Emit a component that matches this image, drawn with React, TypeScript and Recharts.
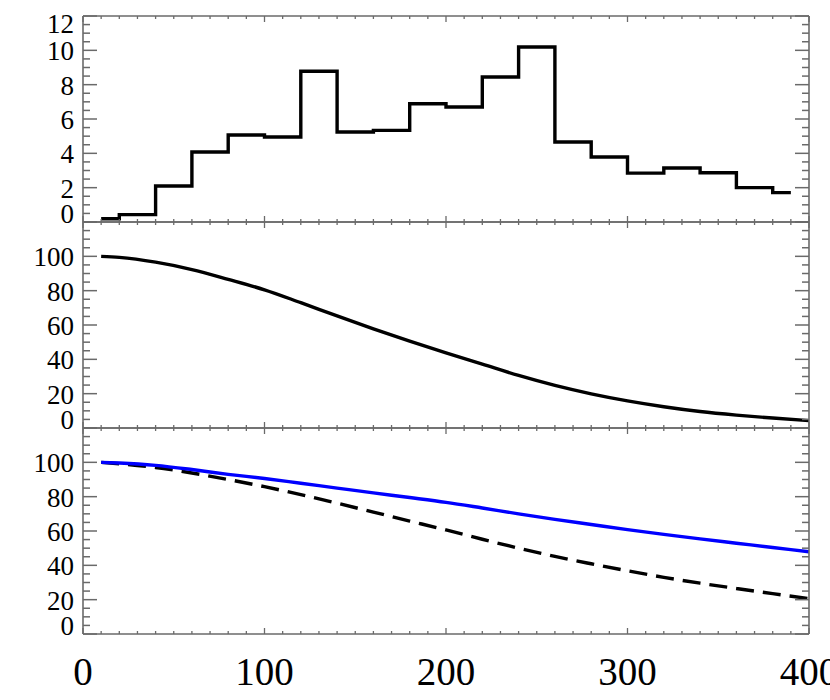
import React from "react";
import { LineChart, Line, XAxis, YAxis } from "recharts";

// ---- data ----
const histX = [10, 30, 50, 70, 90, 110, 130, 150, 170, 190, 210, 230, 250, 270, 290, 310, 330, 350, 370, 390];
const histY = [0.19, 0.43, 2.1, 4.08, 5.07, 4.95, 8.78, 5.24, 5.34, 6.89, 6.7, 8.45, 10.19, 4.66, 3.79, 2.85, 3.15, 2.87, 2.0, 1.71];

const curveX = [10, 20, 40, 60, 80, 100, 120, 140, 160, 180, 200, 220, 240, 260, 280, 300, 320, 340, 360, 380, 400];
const middleY = [100.0, 99.4, 96.6, 92.3, 86.6, 80.5, 73.0, 65.3, 57.8, 50.6, 43.8, 37.2, 30.6, 24.8, 19.9, 15.8, 12.4, 9.6, 7.5, 5.8, 4.3];
const blueY = [100.0, 99.6, 98.2, 95.8, 93.0, 90.6, 87.8, 85.0, 82.2, 79.5, 76.7, 73.4, 70.0, 66.8, 63.8, 60.8, 58.0, 55.4, 52.9, 50.4, 47.9];
const dashedY = [100.0, 99.2, 97.0, 93.8, 90.0, 85.8, 81.2, 76.2, 71.0, 65.8, 60.6, 55.2, 50.0, 45.2, 40.9, 36.8, 33.0, 29.6, 26.5, 23.5, 20.6];

const xMajor = [0, 100, 200, 300, 400];
const topMajor = [0, 2, 4, 6, 8, 10, 12];
const topLabels = [0, 2, 4, 6, 8, 10, 12];
const pctMajor = [0, 20, 40, 60, 80, 100, 120];
const pctLabels = [0, 20, 40, 60, 80, 100];

const histData = histX.map((x, i) => ({ x, v: histY[i] }));
const midData = curveX.map((x, i) => ({ x, v: middleY[i] }));
const botData = curveX.map((x, i) => ({ x, blue: blueY[i], dash: dashedY[i] }));

const xTicks = Array.from({ length: 41 }, (_, i) => i * 10);
const topTicks = Array.from({ length: 25 }, (_, i) => i * 0.5);
const pctTicks = Array.from({ length: 25 }, (_, i) => i * 5);

const FRAME = "#6a6a6a";
const FONT = "'Liberation Serif', 'DejaVu Serif', 'Times New Roman', serif";
const W = 830;
const LEFT = 83;
const RIGHT = 21;
const PLOT_H = 206;

function makeYTick(side: "left" | "right", majors: number[], labels: number[], maxV: number) {
  return (p: any) => {
    const v = p.payload.value;
    const isMajor = majors.includes(v);
    const len = isMajor ? 14 : 7;
    const dir = side === "left" ? 1 : -1;
    let label: React.ReactNode = null;
    if (side === "left" && labels.includes(v)) {
      let dy = 10;
      if (v === 0) dy = 1;
      else if (v === maxV) dy = 17;
      label = (
        <text x={p.x - 9} y={p.y + dy} textAnchor="end" style={{ fontFamily: FONT, fontSize: 27, fill: "#000" }}>
          {v}
        </text>
      );
    }
    return (
      <g>
        <line x1={p.x} x2={p.x + dir * len} y1={p.y} y2={p.y} stroke={FRAME} strokeWidth={1.5} />
        {label}
      </g>
    );
  };
}

function makeXTick(side: "top" | "bottom", showLabels: boolean) {
  return (p: any) => {
    const v = p.payload.value;
    const isMajor = xMajor.includes(v);
    const len = isMajor ? 6 : 3;
    const dir = side === "top" ? 1 : -1;
    return (
      <g>
        <line x1={p.x} x2={p.x} y1={p.y} y2={p.y + dir * len} stroke={FRAME} strokeWidth={1.3} />
        {showLabels && isMajor ? (
          <text x={p.x} y={p.y + 51} textAnchor="middle" style={{ fontFamily: FONT, fontSize: 39, fill: "#000" }}>
            {v}
          </text>
        ) : null}
      </g>
    );
  };
}

function panelAxes(topH: number, botH: number, yDomain: [number, number], yTicks: number[], majors: number[], labels: number[], maxV: number, xLabels: boolean) {
  const axisLine = { stroke: FRAME, strokeWidth: 1.6 };
  return [
    <XAxis
      key="xb"
      xAxisId="b"
      dataKey="x"
      type="number"
      orientation="bottom"
      domain={[0, 400]}
      allowDataOverflow
      ticks={xTicks}
      interval={0}
      height={botH}
      tickSize={0}
      tickMargin={0}
      tickLine={false}
      axisLine={axisLine}
      tick={makeXTick("bottom", xLabels)}
    />,
    <XAxis
      key="xt"
      xAxisId="t"
      dataKey="x"
      type="number"
      orientation="top"
      domain={[0, 400]}
      allowDataOverflow
      ticks={xTicks}
      interval={0}
      height={topH}
      tickSize={0}
      tickMargin={0}
      tickLine={false}
      axisLine={axisLine}
      tick={makeXTick("top", false)}
    />,
    <YAxis
      key="yl"
      yAxisId="l"
      type="number"
      orientation="left"
      domain={yDomain}
      allowDataOverflow
      ticks={yTicks}
      interval={0}
      width={LEFT}
      tickSize={0}
      tickMargin={0}
      tickLine={false}
      axisLine={axisLine}
      tick={makeYTick("left", majors, labels, maxV)}
    />,
    <YAxis
      key="yr"
      yAxisId="r"
      type="number"
      orientation="right"
      domain={yDomain}
      allowDataOverflow
      ticks={yTicks}
      interval={0}
      width={RIGHT}
      tickSize={0}
      tickMargin={0}
      tickLine={false}
      axisLine={axisLine}
      tick={makeYTick("right", majors, labels, maxV)}
    />,
  ];
}

export default function App() {
  const margin = { top: 0, right: 0, bottom: 0, left: 0 };
  return (
    <div style={{ position: "absolute", left: 0, top: 0, width: W, height: 700, background: "#fff", overflow: "hidden" }}>
      <div style={{ position: "absolute", left: 0, top: 0 }}>
        <LineChart width={W} height={16 + PLOT_H + 10} data={histData} margin={margin}>
          {panelAxes(16, 10, [0, 12], topTicks, topMajor, topLabels, 12, false)}
          <Line xAxisId="b" yAxisId="l" dataKey="v" type="step" stroke="#000" strokeWidth={3.4} dot={false} isAnimationActive={false} />
        </LineChart>
      </div>
      <div style={{ position: "absolute", left: 0, top: 212 }}>
        <LineChart width={W} height={10 + PLOT_H + 10} data={midData} margin={margin}>
          {panelAxes(10, 10, [0, 120], pctTicks, pctMajor, pctLabels, 120, false)}
          <Line xAxisId="b" yAxisId="l" dataKey="v" type="monotone" stroke="#000" strokeWidth={3.4} dot={false} isAnimationActive={false} />
        </LineChart>
      </div>
      <div style={{ position: "absolute", left: 0, top: 418 }}>
        <LineChart width={W} height={10 + PLOT_H + 66} data={botData} margin={margin}>
          {panelAxes(10, 66, [0, 120], pctTicks, pctMajor, pctLabels, 120, true)}
          <Line xAxisId="b" yAxisId="l" dataKey="dash" type="monotone" stroke="#000" strokeWidth={3.4} strokeDasharray="18 9" dot={false} isAnimationActive={false} />
          <Line xAxisId="b" yAxisId="l" dataKey="blue" type="monotone" stroke="#0000ff" strokeWidth={3.4} dot={false} isAnimationActive={false} />
        </LineChart>
      </div>
    </div>
  );
}
